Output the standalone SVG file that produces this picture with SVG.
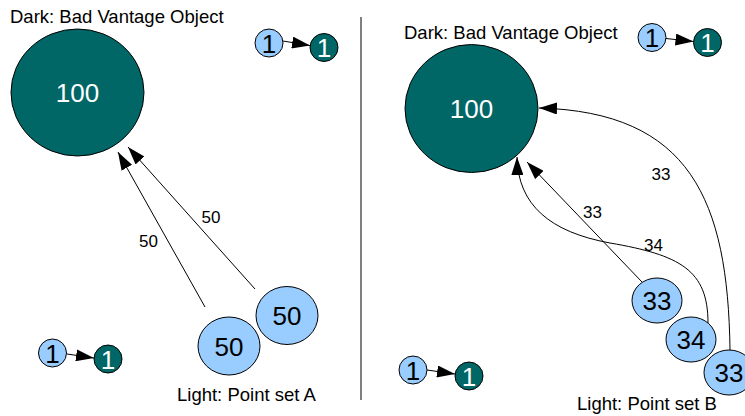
<svg xmlns="http://www.w3.org/2000/svg" width="745" height="416" viewBox="0 0 745 416">
<defs>
<style>
.t{font-family:"Liberation Sans",Arial,sans-serif;fill:#000}
.cap{font-size:18.5px}
.lbl{font-size:17px;text-anchor:middle}
.nt{font-size:26px;text-anchor:middle}
.w{fill:#fff}
.light{fill:#99ccff;stroke:#000;stroke-width:1}
.dark{fill:#006666;stroke:#000;stroke-width:1}
.e{fill:none;stroke:#000;stroke-width:1;marker-end:url(#ah)}
</style>
<marker id="ah" markerUnits="userSpaceOnUse" markerWidth="18" markerHeight="12" refX="18" refY="6" orient="auto" viewBox="0 0 18 12">
<path d="M0,0 L18,6 L0,12 z" fill="#000"/>
</marker>
</defs>
<rect width="745" height="416" fill="#fff"/>
<line x1="361" y1="17" x2="361" y2="400" stroke="#000" stroke-width="1"/>
<text class="t cap" x="10" y="23">Dark: Bad Vantage Object</text>
<text class="t cap" x="404" y="39">Dark: Bad Vantage Object</text>
<text class="t cap" x="177" y="401">Light: Point set A</text>
<text class="t cap" x="577" y="410">Light: Point set B</text>
<g id="connectors">
<line class="e" x1="205" y1="307" x2="118" y2="152"/>
<line class="e" x1="255" y1="289" x2="128" y2="147"/>
<path class="e" d="M730,350 C728,200 690,112 539,108"/>
<path class="e" d="M708,323 C708,270 680,255 610,243 C550,232 518,205 517,157"/>
<line class="e" x1="642" y1="282" x2="527" y2="162"/>
<line class="e" x1="283" y1="41" x2="310" y2="45.5"/>
<line class="e" x1="666" y1="38.5" x2="693.5" y2="41.5"/>
<line class="e" x1="67" y1="354" x2="94" y2="358"/>
<line class="e" x1="427" y1="370" x2="455" y2="374"/>
<text class="t lbl" x="148.5" y="247">50</text>
<text class="t lbl" x="211" y="223">50</text>
<text class="t lbl" x="661" y="180">33</text>
<text class="t lbl" x="592.5" y="218">33</text>
<text class="t lbl" x="653.5" y="251">34</text>
</g>
<g id="dark-left">
<ellipse class="dark" cx="77.5" cy="92.5" rx="66.5" ry="63.5"/>
<text class="t nt w" x="77.5" y="102">100</text>
</g>
<g id="dark-right">
<ellipse class="dark" cx="471.5" cy="108.5" rx="66.5" ry="64"/>
<text class="t nt w" x="471.5" y="118">100</text>
</g>
<g id="a1">
<ellipse class="light" cx="229" cy="346" rx="31" ry="29"/>
<text class="t nt" x="229" y="355.5">50</text>
</g>
<g id="a2">
<ellipse class="light" cx="287" cy="315.5" rx="31" ry="29"/>
<text class="t nt" x="287" y="325">50</text>
</g>
<g id="b1">
<ellipse class="light" cx="657" cy="300.5" rx="25" ry="22.5"/>
<text class="t nt" x="657" y="310">33</text>
</g>
<g id="b2">
<ellipse class="light" cx="691" cy="339.5" rx="25" ry="22.5"/>
<text class="t nt" x="691" y="349">34</text>
</g>
<g id="b3">
<ellipse class="light" cx="729" cy="372.5" rx="25" ry="22.5"/>
<text class="t nt" x="729" y="382">33</text>
</g>
<g id="legend-tl-light"><circle class="light" cx="269" cy="43" r="14"/><text class="t nt" x="269" y="52.5">1</text></g>
<g id="legend-tl-dark"><circle class="dark" cx="324" cy="47.5" r="14"/><text class="t nt w" x="324" y="57">1</text></g>
<g id="legend-tr-light"><circle class="light" cx="652" cy="37.5" r="14"/><text class="t nt" x="652" y="47">1</text></g>
<g id="legend-tr-dark"><circle class="dark" cx="707.5" cy="42.5" r="14"/><text class="t nt w" x="707.5" y="52">1</text></g>
<g id="legend-bl-light"><circle class="light" cx="52.5" cy="353" r="14"/><text class="t nt" x="52.5" y="362.5">1</text></g>
<g id="legend-bl-dark"><circle class="dark" cx="108" cy="359" r="14"/><text class="t nt w" x="108" y="368.5">1</text></g>
<g id="legend-br-light"><circle class="light" cx="413" cy="370" r="14"/><text class="t nt" x="413" y="379.5">1</text></g>
<g id="legend-br-dark"><circle class="dark" cx="469" cy="376" r="14"/><text class="t nt w" x="469" y="385.5">1</text></g>
</svg>
